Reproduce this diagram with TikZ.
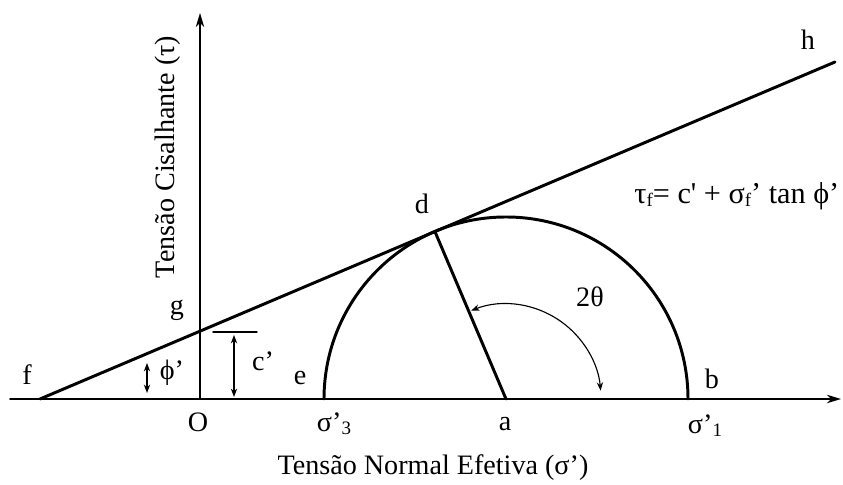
\documentclass[tikz,border=0pt]{standalone}
\usepackage{fontspec}
\setmainfont{Liberation Serif}
\usetikzlibrary{arrows.meta}
\newcommand{\subind}[1]{\raisebox{-0.25ex}{\fontsize{13.5}{14}\selectfont #1}}

\begin{document}
\begin{tikzpicture}[x=0.025cm, y=0.025cm, line width=1pt, line cap=round,
    rotulo/.style={font=\fontsize{20}{23}\selectfont, inner sep=0pt},
    grosso/.style={line width=2.1pt},
    eixo/.style={line width=1.3pt, -{Stealth[length=10pt, width=6pt, inset=3pt]}},
    cota/.style={line width=0.9pt, {Stealth[length=6pt, width=4.5pt]}-{Stealth[length=6pt, width=4.5pt]}}]
  \useasboundingbox (0,0) rectangle (843,485);
  % eixos
  \coordinate (O)  at (200,86);
  \coordinate (xi) at (10,86);
  \coordinate (xf) at (841,86);
  \coordinate (yf) at (200,472);
  \draw[eixo] (xi) -- (xf);
  \draw[eixo] (O) -- (yf);
  % circulo de Mohr
  \coordinate (a) at (506,86);
  \coordinate (e) at (324,86);
  \coordinate (b) at (688,86);
  \coordinate (d) at ([shift={(113:182)}]a);
  \draw[grosso] (b) arc (0:180:182);
  \draw[grosso] (a) -- (d);
  % envoltoria de ruptura
  \coordinate (f) at (40,86);
  \coordinate (g) at (200,154);
  \coordinate (h) at (835,423);
  \draw[grosso] (f) -- (h);
  % angulo 2 theta
  \coordinate (t1) at ([shift={(111.5:95)}]a);
  \draw[cota, line width=0.8pt] (t1) arc (111.5:5:95);
  % coesao c'
  \coordinate (c1) at (213,153);
  \coordinate (c2) at (257,153);
  \coordinate (c3) at (234,150);
  \coordinate (c4) at (234,88);
  \draw (c1) -- (c2);
  \draw[cota] (c3) -- (c4);
  % angulo phi'
  \coordinate (p1) at (147,122);
  \coordinate (p2) at (147,92);
  \draw[cota] (p1) -- (p2);
  % rotulos
  \node[rotulo] (lf) at (27,110) {f};
  \node[rotulo] (lg) at (177,175) {g};
  \node[rotulo] (lO) at (198,63) {O};
  \node[rotulo] (le) at (300,107) {e};
  \node[rotulo] (ls3) at (334,61) {σ’\subind{3}};
  \node[rotulo] (la) at (505,61) {a};
  \node[rotulo] (ls1) at (705,59) {σ’\subind{1}};
  \node[rotulo] (lb) at (712,106) {b};
  \node[rotulo] (ld) at (422,281) {d};
  \node[rotulo] (lh) at (808,445) {h};
  \node[rotulo] (lt) at (590,188) {2θ};
  \node[rotulo] (lc) at (263,124) {c’};
  \node[rotulo] (lp) at (172,112) {ϕ’};
  \node[rotulo, font=\fontsize{21.5}{24}\selectfont, anchor=east] (eq) at (840,289)
    {τ\subind{f}= c\textquotesingle{} + σ\subind{f}’ tan ϕ’};
  \node[rotulo] (xl) at (433,17) {Tensão Normal Efetiva (σ’)};
  \node[rotulo, rotate=90] (yl) at (168,328) {Tensão Cisalhante (τ)};
\end{tikzpicture}
\end{document}
